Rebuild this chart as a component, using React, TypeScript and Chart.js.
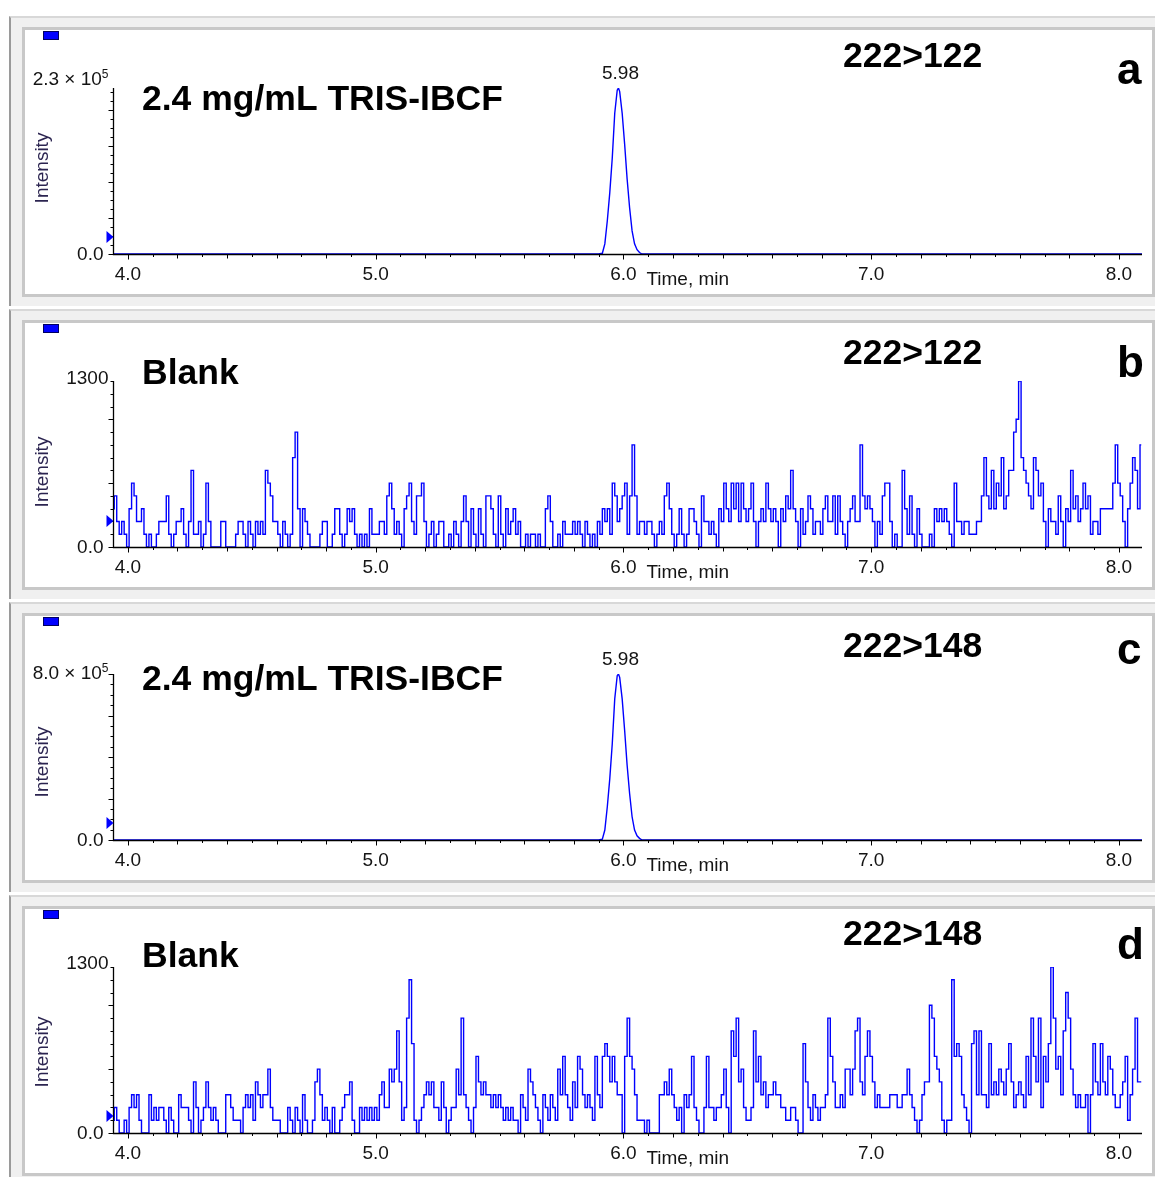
import React, { useEffect, useRef } from "react";
import { Chart, registerables } from "chart.js";

Chart.register(...registerables);

// ---------------- data ----------------
const X_MIN = 3.94;
const X_MAX = 8.093;
const SCAN_START = 3.94;
const SCAN_STEP = 0.01;

const X_TICK_VALUES = [4, 5, 6, 7, 8];
const X_TICK_LABELS = ["4.0", "5.0", "6.0", "7.0", "8.0"];
const X_AXIS_TITLE = "Time, min";
const Y_AXIS_TITLE = "Intensity";

const PEAK_TIMES = [3.94, 5.9, 5.915, 5.925, 5.935, 5.945, 5.955, 5.965, 5.975, 5.98, 5.985, 5.995, 6.005, 6.015, 6.025, 6.035, 6.045, 6.055, 6.065, 6.075, 8.093];
const PEAK_A = [0, 0, 1000, 14000, 46000, 85000, 133000, 195000, 227000, 230000, 225000, 195000, 152000, 104000, 64000, 32000, 14000, 6000, 2000, 0, 0];
const PEAK_C = [0, 0, 4000, 48000, 160000, 296000, 464000, 680000, 792000, 800000, 784000, 680000, 528000, 360000, 224000, 112000, 48000, 20000, 8000, 0, 0];

const BLANK_B = [
  300, 400, 200, 100, 200, 100, 0, 300, 500, 400,
  200, 200, 300, 100, 0, 100, 0, 0, 100, 200,
  200, 200, 400, 100, 0, 100, 200, 200, 300, 100,
  0, 200, 600, 100, 100, 200, 0, 100, 500, 200,
  0, 0, 0, 0, 200, 200, 0, 0, 0, 0,
  100, 200, 200, 100, 0, 200, 100, 0, 200, 100,
  200, 100, 600, 500, 400, 200, 200, 100, 0, 200,
  100, 0, 100, 700, 900, 300, 0, 300, 200, 100,
  0, 0, 0, 0, 100, 200, 200, 0, 0, 100,
  300, 300, 100, 0, 100, 300, 200, 300, 100, 0,
  100, 0, 100, 0, 300, 100, 100, 100, 200, 200,
  100, 400, 500, 300, 100, 200, 100, 0, 300, 400,
  500, 200, 100, 400, 400, 500, 200, 0, 100, 200,
  0, 100, 200, 200, 0, 0, 100, 0, 200, 100,
  0, 200, 400, 200, 0, 300, 100, 0, 300, 100,
  0, 400, 400, 300, 100, 0, 400, 100, 0, 300,
  100, 200, 300, 100, 200, 0, 0, 100, 0, 100,
  100, 0, 100, 0, 0, 300, 400, 200, 0, 0,
  100, 0, 200, 100, 100, 100, 200, 100, 200, 100,
  0, 200, 100, 0, 100, 0, 200, 100, 300, 200,
  300, 100, 500, 400, 200, 300, 400, 500, 100, 400,
  800, 400, 100, 200, 200, 100, 200, 200, 100, 0,
  100, 200, 100, 400, 500, 300, 100, 0, 100, 300,
  100, 0, 100, 300, 300, 200, 100, 0, 400, 200,
  200, 100, 200, 100, 0, 300, 200, 500, 300, 200,
  500, 300, 500, 200, 500, 300, 200, 300, 500, 200,
  0, 200, 300, 200, 500, 300, 200, 300, 200, 0,
  300, 200, 400, 300, 600, 300, 200, 0, 300, 100,
  200, 400, 300, 100, 200, 200, 100, 300, 400, 200,
  200, 400, 100, 400, 200, 100, 0, 200, 300, 400,
  200, 200, 800, 400, 300, 400, 300, 200, 0, 200,
  100, 400, 500, 500, 200, 0, 100, 0, 0, 600,
  300, 100, 400, 100, 0, 300, 100, 0, 0, 0,
  100, 0, 300, 200, 300, 200, 300, 200, 100, 0,
  500, 200, 200, 100, 200, 200, 100, 100, 100, 200,
  200, 400, 700, 400, 300, 600, 300, 500, 400, 700,
  300, 400, 600, 600, 900, 1000, 1300, 700, 600, 500,
  400, 300, 700, 600, 400, 500, 200, 0, 300, 200,
  200, 100, 400, 200, 0, 300, 200, 600, 300, 400,
  200, 300, 500, 300, 400, 100, 200, 200, 100, 300,
  300, 300, 300, 300, 500, 800, 500, 400, 200, 0,
  300, 500, 700, 600, 300, 800,
];

const BLANK_D = [
  100, 200, 100, 0, 0, 100, 0, 200, 300, 200,
  300, 100, 0, 0, 0, 300, 100, 200, 100, 200,
  200, 100, 0, 200, 100, 0, 0, 300, 200, 200,
  200, 100, 0, 400, 200, 0, 100, 200, 400, 200,
  100, 200, 100, 0, 0, 0, 300, 300, 200, 100,
  100, 100, 0, 200, 300, 200, 300, 100, 400, 300,
  200, 300, 300, 500, 200, 100, 100, 100, 0, 0,
  0, 200, 100, 0, 200, 100, 0, 300, 100, 0,
  0, 100, 400, 500, 300, 100, 200, 100, 0, 200,
  0, 0, 100, 200, 300, 300, 400, 100, 0, 0,
  200, 100, 200, 100, 200, 100, 200, 100, 300, 400,
  200, 200, 500, 400, 500, 800, 400, 100, 200, 900,
  1200, 700, 100, 0, 100, 200, 300, 400, 300, 400,
  200, 200, 100, 400, 200, 0, 100, 200, 200, 500,
  300, 900, 300, 200, 100, 0, 200, 600, 400, 300,
  400, 300, 300, 200, 300, 200, 300, 200, 100, 200,
  100, 200, 100, 100, 0, 300, 200, 100, 500, 400,
  300, 200, 100, 0, 300, 200, 100, 300, 200, 100,
  500, 300, 600, 300, 200, 100, 400, 200, 600, 500,
  300, 200, 300, 200, 100, 600, 300, 200, 600, 700,
  600, 400, 600, 400, 300, 300, 0, 600, 900, 600,
  500, 300, 100, 100, 100, 0, 100, 0, 0, 0,
  0, 300, 300, 400, 300, 500, 300, 200, 100, 200,
  0, 300, 200, 300, 600, 200, 100, 0, 0, 200,
  600, 200, 200, 100, 200, 200, 300, 500, 200, 0,
  800, 600, 900, 400, 500, 200, 100, 100, 200, 800,
  400, 600, 300, 400, 200, 300, 300, 400, 300, 300,
  200, 200, 100, 100, 200, 200, 100, 0, 0, 700,
  400, 200, 100, 300, 200, 100, 200, 200, 300, 900,
  600, 400, 200, 200, 300, 200, 500, 500, 300, 500,
  800, 900, 400, 300, 600, 800, 600, 400, 200, 300,
  200, 200, 200, 200, 300, 300, 300, 200, 200, 300,
  300, 500, 300, 200, 100, 0, 100, 300, 400, 400,
  1000, 900, 600, 500, 400, 100, 0, 100, 100, 1200,
  600, 700, 600, 300, 200, 100, 0, 700, 800, 300,
  800, 300, 300, 200, 700, 300, 400, 300, 500, 400,
  300, 500, 700, 400, 200, 300, 400, 300, 200, 600,
  300, 900, 600, 400, 900, 200, 600, 400, 700, 1300,
  900, 500, 600, 300, 800, 1100, 900, 500, 300, 200,
  300, 200, 200, 300, 0, 300, 700, 400, 300, 700,
  400, 300, 600, 500, 300, 200, 200, 300, 400, 600,
  100, 300, 500, 900, 400, 400,
];

// ---------------- layout ----------------
const FONT = "'Liberation Sans', Arial, Helvetica, sans-serif";
const PANEL_H = 293;
const W = 1155;

type Panel = {
  top: number;
  yMax: number;
  yMajor: number;
  yMinor: number;
  yMaxText: string;
  yMaxSup: string;
  yMaxDy: number;
  times: number[] | null;
  values: number[];
  title: string;
  titleBase: number;
  trans: string;
  transBase: number;
  letter: string;
  letterBase: number;
  peakLabel: string;
  peakTime: number;
  intensityY: number;
  markerY: number;
};

const PANELS: Panel[] = [
  { top: 0, yMax: 230000, yMajor: 50000, yMinor: 12500, yMaxText: "2.3 \u00d7 10", yMaxSup: "5", yMaxDy: -8, times: PEAK_TIMES, values: PEAK_A, title: "2.4 mg/mL TRIS-IBCF", titleBase: 110, trans: "222>122", transBase: 67, letter: "a", letterBase: 84, peakLabel: "5.98", peakTime: 5.98, intensityY: 168, markerY: 237 },
  { top: 293, yMax: 1300, yMajor: 500, yMinor: 100, yMaxText: "1300", yMaxSup: "", yMaxDy: -2, times: null, values: BLANK_B, title: "Blank", titleBase: 91, trans: "222>122", transBase: 71, letter: "b", letterBase: 84, peakLabel: "", peakTime: 0, intensityY: 179, markerY: 228 },
  { top: 586, yMax: 800000, yMajor: 200000, yMinor: 50000, yMaxText: "8.0 \u00d7 10", yMaxSup: "5", yMaxDy: 0, times: PEAK_TIMES, values: PEAK_C, title: "2.4 mg/mL TRIS-IBCF", titleBase: 104, trans: "222>148", transBase: 71, letter: "c", letterBase: 78, peakLabel: "5.98", peakTime: 5.98, intensityY: 176, markerY: 237 },
  { top: 879, yMax: 1300, yMajor: 500, yMinor: 100, yMaxText: "1300", yMaxSup: "", yMaxDy: -3, times: null, values: BLANK_D, title: "Blank", titleBase: 88, trans: "222>148", transBase: 66, letter: "d", letterBase: 80, peakLabel: "", peakTime: 0, intensityY: 173, markerY: 237 },
];

function makePoints(p: Panel) {
  if (p.times) return p.values.map((v, i) => ({ x: p.times![i], y: v }));
  return p.values.map((v, i) => ({ x: SCAN_START + i * SCAN_STEP, y: v }));
}

function makePlugin(p: Panel) {
  return {
    id: "chromAxes",
    afterDatasetsDraw(chart: any) {
      const ctx: CanvasRenderingContext2D = chart.ctx;
      const xs = chart.scales.x;
      const ys = chart.scales.y;
      const xl = Math.round(xs.getPixelForValue(X_MIN)) + 0.5;
      const xr = xs.getPixelForValue(X_MAX);
      const y0 = Math.round(ys.getPixelForValue(0)) + 0.5;
      const yTop = ys.getPixelForValue(p.yMax);
      ctx.save();
      ctx.strokeStyle = "#000";
      ctx.lineWidth = 1.3;
      ctx.beginPath();
      ctx.moveTo(xl, yTop);
      ctx.lineTo(xl, y0);
      ctx.lineTo(xr, y0);
      ctx.stroke();
      // y ticks
      ctx.lineWidth = 1;
      ctx.beginPath();
      const nMinor = Math.floor(p.yMax / p.yMinor + 1e-6);
      for (let k = 0; k <= nMinor; k++) {
        const v = k * p.yMinor;
        const y = Math.round(ys.getPixelForValue(v)) + 0.5;
        const major = Math.abs(v / p.yMajor - Math.round(v / p.yMajor)) < 1e-6;
        const len = major ? 5 : 3;
        ctx.moveTo(xl - len, y);
        ctx.lineTo(xl, y);
      }
      ctx.stroke();
      // x ticks
      ctx.beginPath();
      for (let k = 40; k <= 80; k++) {
        const t = k / 10;
        const x = Math.round(xs.getPixelForValue(t)) + 0.5;
        const len = k % 10 === 0 ? 5 : k % 2 === 0 ? 4 : 2.5;
        ctx.moveTo(x, y0);
        ctx.lineTo(x, y0 + len);
      }
      ctx.stroke();

      // labels
      ctx.fillStyle = "#141414";
      ctx.font = `19px ${FONT}`;
      ctx.textBaseline = "middle";
      ctx.textAlign = "right";
      ctx.fillText("0.0", xl - 10, y0);
      if (p.yMaxSup) {
        ctx.font = `12px ${FONT}`;
        const sw = ctx.measureText(p.yMaxSup).width;
        ctx.textAlign = "left";
        ctx.fillText(p.yMaxSup, xl - 5 - sw, yTop + p.yMaxDy - 5);
        ctx.font = `19px ${FONT}`;
        ctx.textAlign = "right";
        ctx.fillText(p.yMaxText, xl - 5 - sw, yTop + p.yMaxDy);
      } else {
        ctx.fillText(p.yMaxText, xl - 5, yTop + p.yMaxDy);
      }
      ctx.textAlign = "center";
      ctx.textBaseline = "alphabetic";
      X_TICK_VALUES.forEach((v, i) => {
        ctx.fillText(X_TICK_LABELS[i], xs.getPixelForValue(v), y0 + 25);
      });
      ctx.textAlign = "left";
      ctx.fillText(X_AXIS_TITLE, xs.getPixelForValue(6) + 23, y0 + 30);
      if (p.peakLabel) {
        ctx.textAlign = "center";
        ctx.fillText(p.peakLabel, xs.getPixelForValue(p.peakTime) + 2, yTop - 9);
      }
      // y title
      ctx.save();
      ctx.translate(43, p.intensityY);
      ctx.rotate(-Math.PI / 2);
      ctx.textAlign = "center";
      ctx.textBaseline = "middle";
      ctx.fillStyle = "#2b2450";
      ctx.fillText(Y_AXIS_TITLE, 0, 0);
      ctx.restore();

      // marker triangle on the y axis
      ctx.fillStyle = "#0000ff";
      ctx.beginPath();
      ctx.moveTo(xl - 7, p.markerY - 6);
      ctx.lineTo(xl, p.markerY);
      ctx.lineTo(xl - 7, p.markerY + 6);
      ctx.closePath();
      ctx.fill();

      // big texts
      ctx.fillStyle = "#000";
      ctx.textAlign = "left";
      ctx.textBaseline = "alphabetic";
      ctx.font = `bold 35.5px ${FONT}`;
      ctx.fillText(p.title, 142, p.titleBase);
      ctx.fillText(p.trans, 843, p.transBase);
      ctx.font = `bold 44px ${FONT}`;
      ctx.fillText(p.letter, 1117, p.letterBase);
      ctx.restore();
    },
  };
}

function PanelChart({ p }: { p: Panel }) {
  const ref = useRef<HTMLCanvasElement | null>(null);
  useEffect(() => {
    if (!ref.current) return;
    const chart = new Chart(ref.current, {
      type: "line",
      data: {
        datasets: [
          {
            data: makePoints(p),
            borderColor: "#0000ff",
            borderWidth: 1.4,
            pointRadius: 0,
            tension: 0,
            stepped: p.times ? false : "middle",
            fill: false,
          },
        ],
      },
      options: {
        animation: false,
        responsive: false,
        maintainAspectRatio: false,
        devicePixelRatio: 1,
        events: [],
        layout: { padding: { left: 113, right: 13, top: 88, bottom: 39 } },
        scales: {
          x: { type: "linear", min: X_MIN, max: X_MAX, display: false },
          y: { type: "linear", min: 0, max: p.yMax, display: false },
        },
        plugins: { legend: { display: false }, tooltip: { enabled: false } },
      },
      plugins: [makePlugin(p)],
    } as any);
    return () => chart.destroy();
  }, [p]);

  return (
    <div style={{ position: "absolute", left: 0, top: p.top, width: W, height: PANEL_H }}>
      <div
        style={{
          position: "absolute",
          left: 9,
          top: 16,
          width: W - 9,
          height: 290,
          background: "#f0f0f0",
          borderLeft: "2px solid #9a9a9a",
          borderTop: "2px solid #d8d8d8",
          boxSizing: "border-box",
        }}
      />
      <div
        style={{
          position: "absolute",
          left: 22,
          top: 27,
          width: W - 22,
          height: 270,
          background: "#ffffff",
          border: "3px solid #c8c8c8",
          boxSizing: "border-box",
        }}
      />
      <div
        style={{
          position: "absolute",
          left: 43,
          top: 31,
          width: 16,
          height: 9,
          background: "#0000ff",
          border: "1px solid #000060",
          boxSizing: "border-box",
        }}
      />
      <canvas ref={ref} width={W} height={PANEL_H} style={{ position: "absolute", left: 0, top: 0 }} />
    </div>
  );
}

export default function App() {
  return (
    <div style={{ position: "absolute", left: 0, top: 0, width: W, height: 1177, background: "#fff", overflow: "hidden" }}>
      {PANELS.map((p, i) => (
        <PanelChart key={i} p={p} />
      ))}
    </div>
  );
}
